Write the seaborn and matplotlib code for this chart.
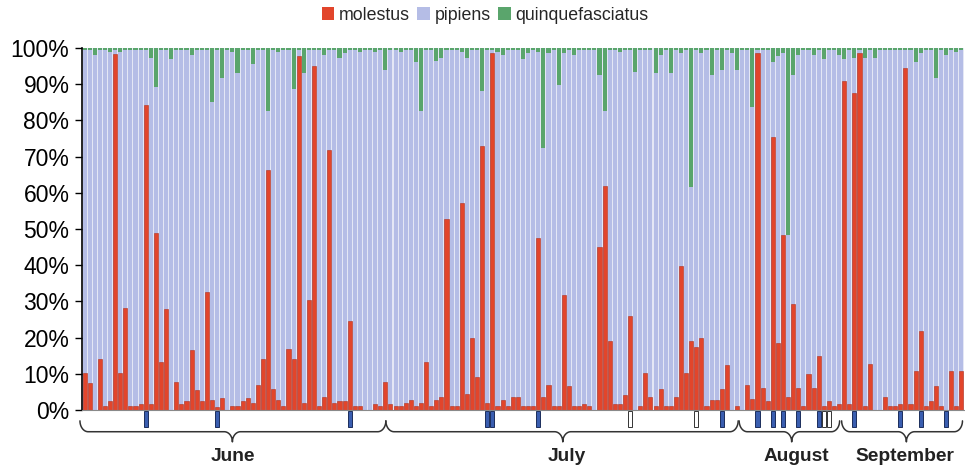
import numpy as np
import pandas as pd
import matplotlib
matplotlib.use("Agg")
import matplotlib.pyplot as plt
import seaborn as sns
from matplotlib.patches import Patch

# ---------------- data ----------------
molestus = [
    10.2, 7.5, 0, 14.1, 1.2, 2.4, 98.4, 10.2, 28.3, 1, 1, 1.7, 84.3, 1.7, 49, 13.2, 28, 0, 7.8, 1.7,
    2.4, 16.6, 5.4, 2.4, 32.5, 2.8, 0.7, 3.2, 0, 1.2, 1, 2.4, 3.2, 1.8, 6.9, 14.1, 66.3, 5.8, 2.8, 1.2,
    16.9, 14.1, 97.7, 1.8, 30.5, 95, 1.2, 3.5, 71.8, 1.8, 2.6, 2.6, 24.7, 1.2, 1.2, 0, 0, 1.7, 1.2, 7.8,
    1.7, 1, 1, 1.8, 2.8, 1, 1.8, 13.2, 1, 2.8, 3.5, 52.9, 1, 1.2, 57.3, 4.4, 19.9, 9, 72.9, 1.8,
    98.6, 1, 2.8, 1.2, 3.5, 3.5, 1, 1.2, 1.2, 47.4, 3.5, 6.9, 1, 1, 31.7, 6.5, 1, 1, 1.7, 1.2,
    0, 45, 62, 19, 1.7, 1.7, 4.2, 26, 0, 1.2, 10.2, 3.5, 1, 5.8, 1, 1, 3.5, 39.7, 10.2, 19,
    17.5, 20, 1, 2.8, 2.8, 5.8, 12.5, 0, 1, 0, 6.9, 3, 98.6, 6, 2.6, 75.5, 18.5, 48.3, 3.5, 29.4,
    6, 1, 10, 6, 15, 1, 2.6, 1.2, 1.7, 91, 1.7, 87.5, 98.6, 1.2, 12.7, 0, 0, 3.5, 1.2, 1.2,
    1.7, 94.5, 1.7, 10.9, 21.7, 1.2, 2.6, 6.5, 1.2, 0, 10.9, 1.2, 10.9,
]
# quinquefasciatus share per sample (samples not listed: 0.5 %)
quinq_by_sample = {
    2: 1.8, 5: 1.2, 7: 1.2, 13: 2.8, 14: 10.8, 17: 3, 21: 1.8, 25: 15, 27: 8.3, 29: 1.2,
    30: 7, 33: 4.4, 36: 17.5, 38: 1.2, 41: 11.4, 43: 7, 47: 2, 50: 2.8, 51: 1.5, 54: 1.2,
    57: 1.2, 59: 6, 62: 1.2, 65: 4, 66: 17.5, 69: 3.7, 70: 2.8, 74: 1.2, 75: 2.8, 78: 12,
    81: 1.2, 82: 2, 86: 3, 87: 1.5, 89: 1, 90: 27.7, 91: 1.4, 93: 10.2, 94: 1.4, 96: 1.8,
    101: 7.4, 102: 17.5, 105: 1.2, 108: 6.5, 112: 7, 113: 2, 115: 7, 117: 1.4, 119: 38.5,
    121: 1.4, 123: 7.4, 125: 6, 127: 1.4, 128: 6, 131: 16.3, 135: 4, 136: 2.3, 137: 1.5,
    138: 51.7, 139: 7.4, 140: 1.8, 143: 1.8, 145: 3, 148: 1.8, 149: 3, 151: 2.8, 153: 2.8,
    155: 2.8, 163: 4, 164: 1.4, 167: 8.3, 169: 1.8, 171: 1.2,
}
sample_ids = list(range(len(molestus)))
quinq = [quinq_by_sample.get(i, 0.5) for i in sample_ids]
pipiens = [100 - m - q for m, q in zip(molestus, quinq)]

blue_marks = [12, 26, 52, 79, 80, 89, 125, 132, 135, 137, 140, 144, 151, 160, 164, 169]
white_marks = [107, 120, 145, 146]

months = ["June", "July", "August", "September"]
# brace extents (start, tip, end) in sample-position units
month_braces = [(-0.9, 29.0, 59.1), (59.1, 93.8, 128.2), (128.4, 138.7, 148.1), (148.5, 161.2, 172.2)]
month_label_x = [29.1, 94.6, 139.7, 160.9]

df = pd.DataFrame({
    "sample": sample_ids,
    "molestus": molestus,
    "pipiens": pipiens,
    "quinquefasciatus": quinq,
})
df["upto_pipiens"] = df["molestus"] + df["pipiens"]
df["total"] = df["upto_pipiens"] + df["quinquefasciatus"]

RED = "#e2452b"
LAV = "#b5bde6"
GRN = "#5aa56c"

# ---------------- plot ----------------
sns.set_theme(style="white")
plt.rcParams["font.family"] = ["Liberation Sans", "DejaVu Sans"]

fig = plt.figure(figsize=(9.65, 4.69), dpi=100)
ax = fig.add_axes([82 / 965, 59 / 469, 882 / 965, 362 / 469])
ax.set_facecolor("#e4e7f5")

sns.barplot(data=df, x="sample", y="total", color=GRN, saturation=1, width=0.8,
            linewidth=0, ax=ax, errorbar=None)
sns.barplot(data=df, x="sample", y="upto_pipiens", color=LAV, saturation=1, width=0.8,
            linewidth=0, ax=ax, errorbar=None)
sns.barplot(data=df, x="sample", y="molestus", color=RED, saturation=1, width=0.8,
            edgecolor="#b3301c", linewidth=0.4, ax=ax, errorbar=None)

ax.set_xlim(-0.5, len(molestus) - 0.5)
ax.set_ylim(0, 100)
ax.set_yticks(range(0, 101, 10))
ax.set_yticklabels([f"{v}%" for v in range(0, 101, 10)])
ax.tick_params(axis="y", direction="out", length=5, width=1, colors="black",
               labelsize=16.5, pad=4, left=True)
ax.tick_params(axis="x", bottom=False, labelbottom=False)
ax.set_xlabel("")
ax.set_ylabel("")
for s in ["top", "right"]:
    ax.spines[s].set_visible(False)
ax.spines["left"].set_color("black")
ax.spines["left"].set_linewidth(1.2)
ax.spines["bottom"].set_color("#8a8a8a")
ax.spines["bottom"].set_linewidth(0.8)

# sample markers below the axis
ax.bar(blue_marks, [4.4] * len(blue_marks), bottom=-4.7, width=0.8, color="#3a5eb0",
       edgecolor="#1c2d5c", linewidth=0.7, clip_on=False)
ax.bar(white_marks, [4.4] * len(white_marks), bottom=-4.7, width=0.8, color="white",
       edgecolor="#333333", linewidth=0.7, clip_on=False)


def brace(x0, xm, x1, ytop=-3.0, yline=-6.0, ytip=-8.8, r=1.6):
    t = np.linspace(0, np.pi / 2, 20)
    xa = x0 + r * (1 - np.cos(t)); ya = ytop + (yline - ytop) * np.sin(t)
    xb = xm - r + r * np.sin(t); yb = yline + (ytip - yline) * (1 - np.cos(t))
    xc = xm + r * (1 - np.cos(t)); yc = ytip + (yline - ytip) * np.sin(t)
    xd = x1 - r + r * np.sin(t); yd = yline + (ytop - yline) * (1 - np.cos(t))
    return np.concatenate([xa, xb, xc, xd]), np.concatenate([ya, yb, yc, yd])


for (x0, xm, x1), name, lx in zip(month_braces, months, month_label_x):
    bx, by = brace(x0, xm, x1)
    ax.plot(bx, by, color="#333333", lw=1.1, clip_on=False)
    ax.text(lx, -12.8, name, ha="center", va="center", fontsize=13.8, fontweight="bold",
            color="#222222", clip_on=False)

handles = [Patch(facecolor=RED, edgecolor="none"), Patch(facecolor=LAV, edgecolor="none"),
           Patch(facecolor=GRN, edgecolor="none")]
fig.legend(handles, ["molestus", "pipiens", "quinquefasciatus"], loc="center",
           bbox_to_anchor=(485 / 965, 1 - 15 / 469), ncol=3, frameon=False, fontsize=12.8,
           handlelength=0.7, handleheight=0.7, handletextpad=0.25, columnspacing=0.45,
           borderaxespad=0)

fig.savefig("out.png", dpi=100)
